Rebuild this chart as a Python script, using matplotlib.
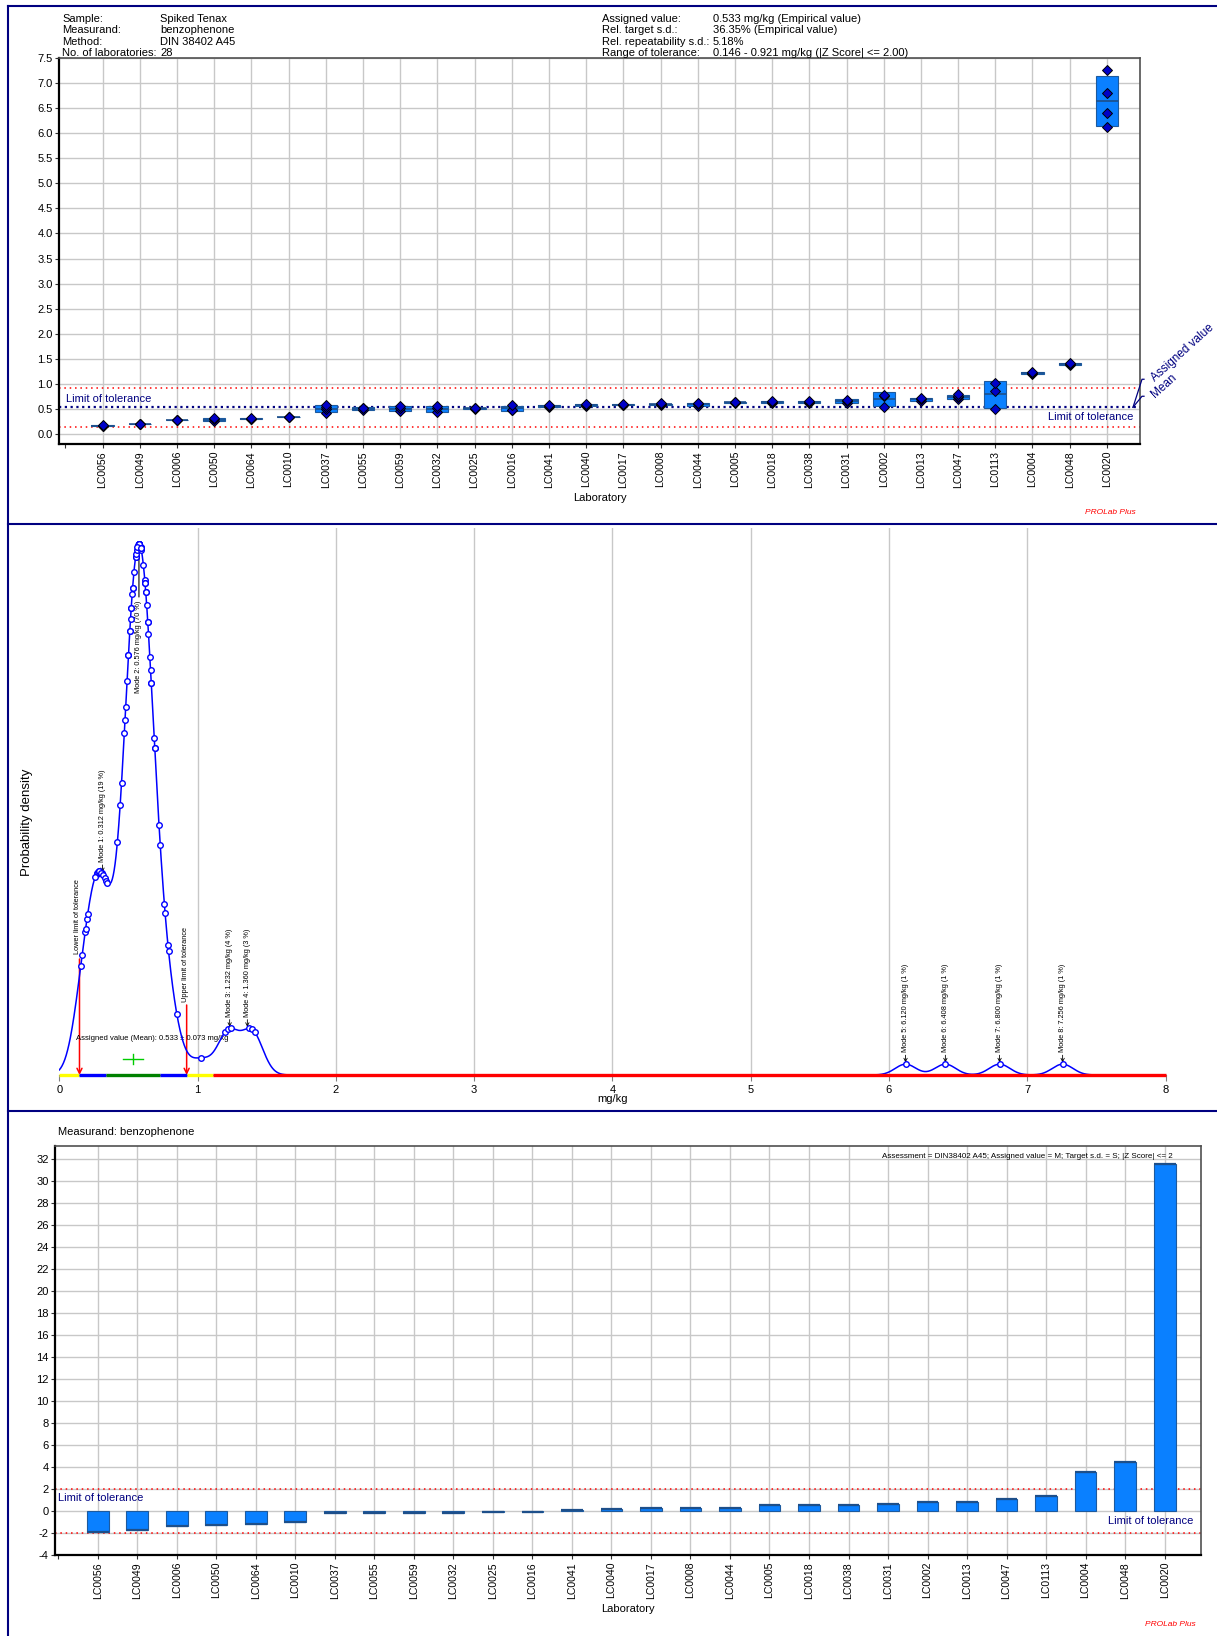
import numpy as np
import matplotlib
matplotlib.use("Agg")
import matplotlib.pyplot as plt
import matplotlib.transforms as mtransforms
from matplotlib.lines import Line2D
from matplotlib.patches import Rectangle

plt.rcParams['font.family'] = ['Liberation Sans', 'DejaVu Sans']
plt.rcParams['axes.unicode_minus'] = False

W, H = 1217, 1636

# ---- data ----
labs = ["LC0056", "LC0049", "LC0006", "LC0050", "LC0064", "LC0010", "LC0037",
        "LC0055", "LC0059", "LC0032", "LC0025", "LC0016", "LC0041", "LC0040",
        "LC0017", "LC0008", "LC0044", "LC0005", "LC0018", "LC0038", "LC0031",
        "LC0002", "LC0013", "LC0047", "LC0113", "LC0004", "LC0048", "LC0020"]

results = [[0.155, 0.165, 0.187], [0.19, 0.20, 0.205], [0.27, 0.275, 0.28],
           [0.26, 0.29, 0.31], [0.29, 0.305, 0.317], [0.33, 0.34, 0.347],
           [0.42, 0.49, 0.53, 0.575], [0.47, 0.515, 0.527], [0.45, 0.51, 0.552],
           [0.44, 0.52, 0.552], [0.50, 0.51, 0.52], [0.475, 0.48, 0.575],
           [0.54, 0.555, 0.573], [0.56, 0.575, 0.593], [0.57, 0.578, 0.589],
           [0.575, 0.59, 0.608], [0.565, 0.59, 0.618], [0.625, 0.632, 0.645],
           [0.62, 0.64, 0.66], [0.625, 0.64, 0.655], [0.62, 0.665, 0.686],
           [0.53, 0.76, 0.786], [0.665, 0.69, 0.721], [0.69, 0.73, 0.765, 0.79],
           [0.50, 0.85, 1.023], [1.20, 1.22, 1.243], [1.375, 1.395, 1.415],
           [6.120, 6.408, 6.800, 7.256]]

z_scores = [-1.88, -1.73, -1.33, -1.27, -1.18, -1.0, -0.15, -0.15, -0.15, -0.15,
            -0.12, -0.12, 0.12, 0.22, 0.24, 0.3, 0.3, 0.52, 0.55, 0.55, 0.64,
            0.82, 0.82, 1.09, 1.33, 3.55, 4.45, 31.56]

assigned = 0.533
assigned_unc = 0.073
rel_target_sd = 0.3635
tol_low, tol_high = 0.146, 0.921
bandwidth = 0.075

modes_x = [0.312, 0.576, 1.232, 1.360, 6.120, 6.408, 6.800, 7.256]
modes_pct = [19, 70, 4, 3, 1, 1, 1, 1]

strip_sigmas = [-3, -2, -1, 1, 2, 3]
strip_colors = ["#ffff00", "#0000ff", "#008000", "#0000ff", "#ffff00", "#ff0000"]

header_left_keys = ["Sample:", "Measurand:", "Method:", "No. of laboratories:"]
header_left_vals = ["Spiked Tenax", "benzophenone", "DIN 38402 A45", "28"]
header_right_keys = ["Assigned value:", "Rel. target s.d.:", "Rel. repeatability s.d.:",
                     "Range of tolerance:"]
header_right_vals = ["0.533 mg/kg (Empirical value)", "36.35% (Empirical value)", "5.18%",
                     "0.146 - 0.921 mg/kg (|Z Score| <= 2.00)"]

NAVY = "#000080"
BOX = "#0a80ff"
BOXEDGE = "#1d5a9e"
GRID = "#c8c8c8"


def px_rect(l, t, r, b):
    return [l / W, 1 - b / H, (r - l) / W, (b - t) / H]


def ftext(x, y, s, **kw):
    return fig.text(x / W, 1 - y / H, s, **kw)


def style_box_axes(ax):
    ax.grid(True, color=GRID, lw=1)
    ax.set_axisbelow(True)
    for side in ("left", "bottom"):
        ax.spines[side].set_linewidth(1.6)
        ax.spines[side].set_color("black")
    for side in ("top", "right"):
        ax.spines[side].set_linewidth(1.2)
        ax.spines[side].set_color("#505050")
    ax.tick_params(axis="y", labelsize=8, length=3, width=0.8, color="#333333", pad=1.5)
    ax.tick_params(axis="x", labelsize=7.6, length=3, width=0.8, color="#333333", pad=2)
    ax.get_xgridlines()[0].set_visible(False)


fig = plt.figure(figsize=(W / 100, H / 100), dpi=100)
pos = np.arange(len(labs))
sd = assigned * rel_target_sd

# ---- panel borders ----
for y in (6, 524, 1111):
    fig.add_artist(Line2D([8 / W, 1], [1 - y / H] * 2, color=NAVY, lw=1.5))
fig.add_artist(Line2D([8 / W] * 2, [1 - 6 / H, 0], color=NAVY, lw=1.5))

# ---- header ----
rows_y = [19, 30.3, 41.6, 52.6]
for k, v, ry in zip(header_left_keys, header_left_vals, rows_y):
    ftext(62.5, ry, k, fontsize=8, va="center")
    ftext(160, ry, v, fontsize=8, va="center")
for k, v, ry in zip(header_right_keys, header_right_vals, rows_y):
    ftext(602, ry, k, fontsize=8, va="center")
    ftext(713, ry, v, fontsize=8, va="center")

# ---- top panel: results per laboratory ----
ax1 = fig.add_axes(px_rect(59, 58, 1140, 444))
ax1.set_xlim(-1.17, 27.89)
ax1.set_ylim(-0.2, 7.5)
yt = np.arange(0, 7.51, 0.5)
ax1.set_yticks(yt)
ax1.set_yticklabels([f"{v:.1f}" for v in yt])
ax1.set_xticks(np.arange(-1, len(labs)))
ax1.set_xticklabels([""] + labs, rotation=90)
style_box_axes(ax1)

ax1.axhline(tol_high, color="#ff0000", ls=(0, (1, 2.5)), lw=1.1, zorder=2)
ax1.axhline(tol_low, color="#ff0000", ls=(0, (1, 2.5)), lw=1.1, zorder=2)
ax1.axhline(assigned, color=NAVY, ls=(0, (1, 1.6)), lw=1.6, zorder=2)

for i, vals in enumerate(results):
    v = np.array(vals)
    m, s = v.mean(), v.std(ddof=1)
    ax1.add_patch(Rectangle((i - 0.3, m - s), 0.6, 2 * s, fc=BOX, ec=BOXEDGE, lw=0.8, zorder=3))
    ax1.hlines(m, i - 0.3, i + 0.3, color="#1d4f8a", lw=1.2, zorder=4)
    ax1.plot(np.full(len(v), i), v, "D", ms=4.8, mfc="#0000c8", mec="black", mew=0.7, zorder=5)

blend1 = mtransforms.blended_transform_factory(ax1.transAxes, ax1.transData)
ax1.text(0.0065, 0.70, "Limit of tolerance", color=NAVY, fontsize=8, transform=blend1, va="center")
ax1.text(0.9935, 0.34, "Limit of tolerance", color=NAVY, fontsize=8, ha="right",
         transform=blend1, va="center")
ax1.set_xlabel("Laboratory", fontsize=8, va="top")
ax1.xaxis.set_label_coords(0.5, -0.126)

# assigned value / mean bracket right of the plot
p0x, p0y = ax1.transData.transform((ax1.get_xlim()[1], assigned))
p0x -= 7
for dy, lab in ((28, "Assigned value"), (11, "Mean")):
    fig.add_artist(Line2D([p0x / W, (p0x + 9) / W, (p0x + 11) / W],
                          [p0y / H, (p0y + dy) / H, (p0y + dy) / H], color=NAVY, lw=0.9))
    fig.text((p0x + 20) / W, (p0y + dy) / H, lab, color=NAVY, fontsize=8.5, rotation=42,
             rotation_mode="anchor", ha="left", va="center")

ftext(1136, 513, "PROLab Plus", color="red", style="italic", fontsize=6, ha="right", va="center")


# ---- middle panel: kernel density ----
def density(x):
    x = np.asarray(x, dtype=float)
    tot = np.zeros_like(x)
    for vals in results:
        v = np.asarray(vals)
        k = np.exp(-0.5 * ((x[:, None] - v[None, :]) / bandwidth) ** 2) / (bandwidth * np.sqrt(2 * np.pi))
        tot += k.mean(axis=1) / len(results)
    return tot


allpts = np.concatenate([np.asarray(r) for r in results])
xs = np.sort(np.concatenate([np.linspace(0, 8, 2401), allpts]))
ys = density(xs)

ax2 = fig.add_axes(px_rect(59.3, 528, 1165.5, 1075))
ymax = ys.max() * 547 / 531
ax2.set_xlim(0, 8)
ax2.set_ylim(0, ymax)
ax2.set_xticks(range(9))
ax2.set_yticks([])
ax2.grid(True, axis="x", color=GRID, lw=1)
ax2.set_axisbelow(True)
gls = ax2.get_xgridlines()
gls[0].set_visible(False)
gls[-1].set_visible(False)
for side in ("left", "top", "right"):
    ax2.spines[side].set_visible(False)
ax2.spines["bottom"].set_color("#808080")
ax2.tick_params(labelsize=8, length=4, width=0.8, color="#808080")

ax2.plot(xs, ys, color="#0000ff", lw=1.1, zorder=4)
ax2.plot(allpts, density(allpts), "o", ms=4, mfc="white", mec="#0000ff", mew=1.0, zorder=6)

edges = [0] + [assigned + k * sd for k in strip_sigmas[1:]] + [8]
edges = [max(0, e) for e in edges]
for a, b, c in zip(edges[:-1], edges[1:], strip_colors):
    ax2.plot([a, b], [0, 0], color=c, lw=2.4, solid_capstyle="butt", clip_on=False, zorder=5)

PT = 0.72  # points per pixel
for k, (m, p) in enumerate(zip(modes_x, modes_pct), start=1):
    lab = f"Mode {k}: {m:.3f} mg/kg ({p} %)"
    y = density([m])[0]
    if k == 2:
        ax2.annotate("", xy=(m, y), xytext=(0, -53 * PT), textcoords="offset points",
                     arrowprops=dict(arrowstyle="-", color="black", lw=0.8, shrinkA=0, shrinkB=10 * PT))
        ax2.annotate(lab, xy=(m, y), xytext=(0, -57 * PT), textcoords="offset points",
                     rotation=90, ha="center", va="top", fontsize=5.3)
    else:
        ax2.annotate("", xy=(m, y), xytext=(0, 9 * PT), textcoords="offset points",
                     arrowprops=dict(arrowstyle="->", color="black", lw=0.6, shrinkA=0, shrinkB=1.2,
                                     mutation_scale=6))
        ax2.annotate(lab, xy=(m, y), xytext=(0, 12 * PT), textcoords="offset points",
                     rotation=90, ha="center", va="bottom", fontsize=5.3)

for xv, h_arrow, h_text, dx, lab in ((tol_low, 116, 121, -2, "Lower limit of tolerance"),
                                     (tol_high, 70, 73, -1, "Upper limit of tolerance")):
    ax2.annotate("", xy=(xv, 0), xytext=(0, h_arrow * PT), textcoords="offset points",
                 arrowprops=dict(arrowstyle="->", color="red", lw=1.1, shrinkA=0, shrinkB=0,
                                 mutation_scale=9))
    ax2.annotate(lab, xy=(xv, 0), xytext=(dx * PT, h_text * PT), textcoords="offset points",
                 rotation=90, ha="center", va="bottom", fontsize=5.3)

blend2 = mtransforms.blended_transform_factory(ax2.transData, ax2.transAxes)
ax2.text(0.12, 37 / 547, f"Assigned value (Mean): {assigned} \u00b1 {assigned_unc} mg/kg",
         transform=blend2, fontsize=5.5, va="center")
yc = 16 / 547
ax2.plot([assigned - assigned_unc, assigned + assigned_unc], [yc, yc], color="#00cc00", lw=1,
         transform=blend2, zorder=6)
ax2.plot([assigned, assigned], [yc - 5 / 547, yc + 5 / 547], color="#00cc00", lw=1,
         transform=blend2, zorder=6)

ax2.set_ylabel("Probability density", fontsize=9.5)
ax2.yaxis.label.set_va("center")
ax2.yaxis.set_label_coords((27 - 59.3) / 1106.2, (1075 - 822) / 547)
ax2.set_xlabel("mg/kg", fontsize=8, va="top")
ax2.xaxis.set_label_coords(0.5, -(1094 - 1075) / 547)

# ---- bottom panel: z scores ----
ax3 = fig.add_axes(px_rect(55, 1146, 1201, 1555))
ax3.set_xlim(-1.08, 27.92)
ax3.set_ylim(-4, 33.2)
ax3.set_yticks(range(-4, 33, 2))
ax3.set_xticks(np.arange(-1, len(labs)))
ax3.set_xticklabels([""] + labs, rotation=90)
style_box_axes(ax3)

ax3.axhline(2, color="#ff0000", ls=(0, (1, 2.5)), lw=1.1, zorder=2)
ax3.axhline(-2, color="#ff0000", ls=(0, (1, 2.5)), lw=1.1, zorder=2)
ax3.bar(pos, z_scores, width=0.55, color=BOX, edgecolor=BOXEDGE, lw=0.8, zorder=3)
ax3.hlines(z_scores, pos - 0.275, pos + 0.275, color="#1d4f8a", lw=1.6, zorder=4)

blend3 = mtransforms.blended_transform_factory(ax3.transAxes, ax3.transData)
ax3.text(0.003, 1.2, "Limit of tolerance", color=NAVY, fontsize=8, transform=blend3, va="center")
ax3.text(0.993, -0.9, "Limit of tolerance", color=NAVY, fontsize=8, transform=blend3,
         va="center", ha="right")
ax3.text((1173 - 55) / 1146, (1555 - 1157) / 409,
         "Assessment = DIN38402 A45; Assigned value = M; Target s.d. = S; |Z Score| <= 2",
         transform=ax3.transAxes, fontsize=5.8, ha="right", va="center")
ftext(58.5, 1132, "Measurand: benzophenone", fontsize=8, va="center")
ax3.set_xlabel("Laboratory", fontsize=8, va="top")
ax3.xaxis.set_label_coords(0.5, -(1604 - 1555) / 409)
ftext(1196, 1625, "PROLab Plus", color="red", style="italic", fontsize=6, ha="right", va="center")

fig.savefig("out.png", dpi=100)
